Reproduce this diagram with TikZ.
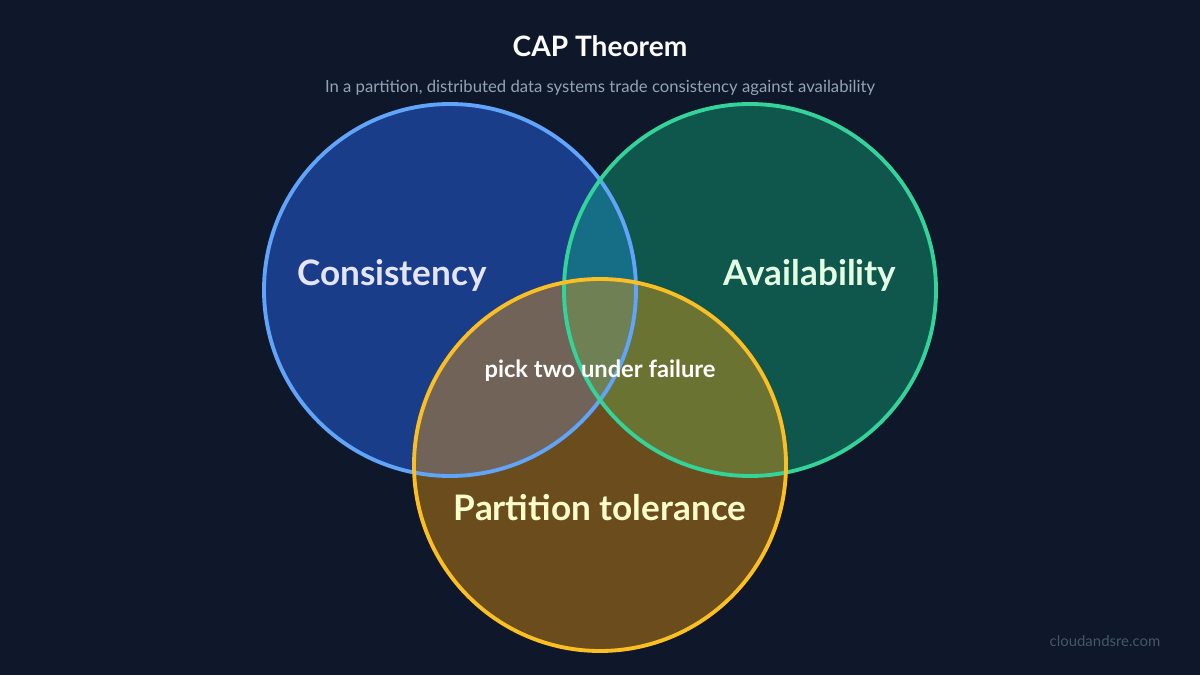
\documentclass[tikz,border=0pt]{standalone}
\usepackage{fontspec}
\setmainfont{Lato}
\usepackage{tikz}
\definecolor{bg}{HTML}{0F172A}
\definecolor{cblue}{HTML}{2563EB}
\definecolor{sblue}{HTML}{60A5FA}
\definecolor{cgreen}{HTML}{10B981}
\definecolor{sgreen}{HTML}{34D399}
\definecolor{corange}{HTML}{F59E0B}
\definecolor{sorange}{HTML}{FBBF24}
\definecolor{subgray}{HTML}{94A3B8}
\definecolor{markgray}{HTML}{475569}
\tikzstyle{set}=[line width=2.2pt]
\tikzstyle{setlabel}=[font=\fontsize{20}{24}\selectfont\bfseries]
\begin{document}
\begin{tikzpicture}[x=0.02cm,y=-0.02cm]
    \fill[bg] (0,0) rectangle (1200,675);
    \useasboundingbox (0,0) rectangle (1200,675);
    \node[font=\fontsize{16}{19}\selectfont\bfseries, text=white] (title) at (600,46) {CAP Theorem};
    \node[font=\fontsize{9.5}{11}\selectfont, text=subgray] (subtitle) at (600,88) {In a partition, distributed data systems trade consistency against availability};
    \fill[cblue, fill opacity=0.5] (450,290) circle (186);
    \fill[cgreen, fill opacity=0.4] (750,290) circle (186);
    \fill[corange, fill opacity=0.4] (600,465) circle (186);
    \draw[set, sblue] (450,290) circle (186);
    \draw[set, sgreen] (750,290) circle (186);
    \draw[set, sorange] (600,465) circle (186);
    \node[setlabel, text=blue!10] (C) at (392,275) {Consistency};
    \node[setlabel, text=green!10] (A) at (810,275) {Availability};
    \node[setlabel, text=yellow!20] (P) at (600,508) {Partition tolerance};
    \node[font=\fontsize{13.5}{16}\selectfont\bfseries, text=white] (pick) at (600,371) {pick two under failure};
    \node[font=\fontsize{8.5}{10}\selectfont, text=markgray] (mark) at (1105,641) {cloudandsre.com};
\end{tikzpicture}
\end{document}
